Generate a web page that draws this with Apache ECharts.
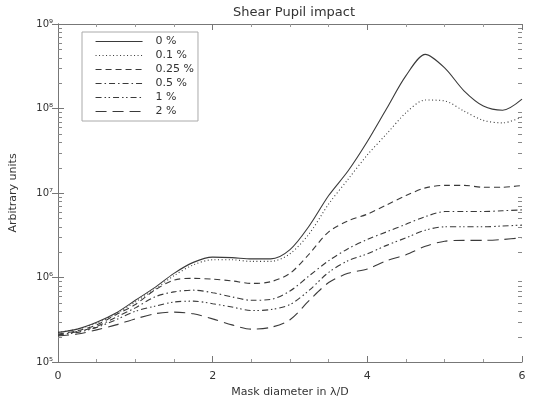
<!DOCTYPE html>
<html><head><meta charset="utf-8">
<script src="https://cdn.jsdelivr.net/npm/echarts@6/dist/echarts.min.js"></script>
<style>html,body{margin:0;padding:0;background:#fff}#c{width:537px;height:406px}</style>
</head><body><div id="c"></div>
<script>
const xs = [0,0.25,0.5,0.75,1,1.25,1.5,1.75,2,2.25,2.5,2.75,3,3.25,3.5,3.75,4,4.25,4.5,4.75,5,5.25,5.5,5.75,6];
const s0 = [2.24e5,2.45e5,2.95e5,3.80e5,5.37e5,7.59e5,1.12e6,1.51e6,1.74e6,1.72e6,1.66e6,1.66e6,2.14e6,4.1e6,9.33e6,1.82e7,4.07e7,1.0e8,2.45e8,4.37e8,3.02e8,1.62e8,1.07e8,9.55e7,1.29e8];
const s01 = [2.24e5,2.45e5,2.88e5,3.72e5,5.13e5,7.24e5,1.05e6,1.41e6,1.62e6,1.62e6,1.55e6,1.55e6,1.91e6,3.31e6,7.41e6,1.45e7,2.82e7,5.01e7,8.91e7,1.26e8,1.23e8,9.33e7,7.24e7,6.76e7,7.94e7];
const s025 = [2.14e5,2.34e5,2.75e5,3.63e5,4.79e5,7.08e5,9.33e5,9.77e5,9.55e5,9.12e5,8.51e5,8.91e5,1.12e6,1.91e6,3.47e6,4.68e6,5.62e6,7.24e6,9.33e6,1.15e7,1.23e7,1.23e7,1.17e7,1.17e7,1.23e7];
const s05 = [2.09e5,2.29e5,2.63e5,3.39e5,4.37e5,5.89e5,6.76e5,7.08e5,6.61e5,5.89e5,5.37e5,5.50e5,6.92e5,1.05e6,1.58e6,2.19e6,2.82e6,3.47e6,4.27e6,5.25e6,6.03e6,6.03e6,6.03e6,6.17e6,6.31e6];
const s1 = [2.09e5,2.24e5,2.57e5,3.16e5,3.98e5,4.57e5,5.13e5,5.25e5,4.90e5,4.47e5,4.07e5,4.17e5,4.79e5,7.08e5,1.15e6,1.58e6,1.91e6,2.40e6,2.95e6,3.63e6,3.98e6,3.98e6,3.98e6,4.07e6,4.17e6];
const s2 = [2.04e5,2.14e5,2.40e5,2.75e5,3.24e5,3.72e5,3.89e5,3.72e5,3.24e5,2.75e5,2.45e5,2.57e5,3.16e5,5.37e5,8.71e5,1.12e6,1.26e6,1.58e6,1.86e6,2.34e6,2.69e6,2.75e6,2.75e6,2.82e6,2.95e6];
const seriesNames = ['0 %','0.1 %','0.25 %','0.5 %','1 %','2 %'];
const xTicks = [0,2,4,6];
const yTickLabels = {5:'10⁵',6:'10⁶',7:'10⁷',8:'10⁸',9:'10⁹'};

const allData = [s0,s01,s025,s05,s1,s2];
const dashes = ['solid',[1,2.5],[6,4],[6,3,1.5,3],[6,3,1.5,2.5,1.5,3],[11,6]];
const col = '#3a3a3a';
const font = 'DejaVu Sans';
const chart = echarts.init(document.getElementById('c'), null, {renderer:'canvas'});
const axisLine = {show:true, lineStyle:{color:'#777', width:1}};
const xBase = {type:'value', min:0, max:6, interval:2, axisLine, splitLine:{show:false},
  axisTick:{show:true, inside:true, length:6, lineStyle:{color:'#777'}},
  minorTick:{show:true, splitNumber:4, length:3, lineStyle:{color:'#999'}}};
const yBase = {type:'log', logBase:10, min:1e5, max:1e9, axisLine, splitLine:{show:false},
  axisTick:{show:true, inside:true, length:6, lineStyle:{color:'#777'}}};
chart.setOption({
  animation:false,
  title:{text:'Shear Pupil impact', left:289, textAlign:'center', top:1,
    textStyle:{fontFamily:font, fontSize:13, fontWeight:'normal', color:'#333'}},
  grid:{left:57, right:15, top:24, bottom:44, containLabel:false},
  legend:{orient:'vertical', left:82, top:32, itemWidth:47, itemHeight:10, itemGap:3,
    padding:[4,4,4,13], borderColor:'#aaa', borderWidth:1, backgroundColor:'#fff',
    itemStyle:{opacity:0},
    lineStyle:{width:1.1},
    textStyle:{fontFamily:font, fontSize:11, color:'#333', padding:[0,0,0,8]},
    data:seriesNames},
  xAxis:[Object.assign({}, xBase, {position:'bottom', name:'Mask diameter in λ/D', nameLocation:'middle', nameGap:22,
      nameTextStyle:{fontFamily:font, fontSize:11, color:'#333'},
      axisLabel:{fontFamily:font, fontSize:11, color:'#333', margin:9,
        formatter:v=> xTicks.indexOf(v)>=0 ? String(v) : ''}}),
    Object.assign({}, xBase, {position:'top', axisLabel:{show:false}})],
  yAxis:[Object.assign({}, yBase, {position:'left', name:'Arbitrary units', nameLocation:'middle', nameGap:39,
      nameTextStyle:{fontFamily:font, fontSize:11, color:'#333'},
      axisLabel:{fontFamily:font, fontSize:10, color:'#333', margin:5,
        formatter:v=>yTickLabels[Math.round(Math.log10(v))]||''}}),
    Object.assign({}, yBase, {position:'right', axisLabel:{show:false}})],
  series: allData.map((d,i)=>({
    name:seriesNames[i], type:'line', xAxisIndex:0, yAxisIndex:0, smooth:0.3,
    showSymbol:false, symbol:'none',
    lineStyle:{color:col, width:1.1, type:dashes[i]},
    itemStyle:{color:col},
    data:xs.map((x,j)=>[x,d[j]])
  }))
});
// log-spaced minor ticks on both y axes (axis decoration)
const rect = chart.getModel().getComponent('grid', 0).coordinateSystem.getRect();
const g = [];
for (let e=5;e<9;e++){
  for (let m=2;m<=9;m++){
    const v = m*Math.pow(10,e);
    const y = Math.round(chart.convertToPixel({yAxisIndex:0}, v)) + 0.5;
    g.push({type:'line', shape:{x1:rect.x, y1:y, x2:rect.x+4, y2:y}, style:{stroke:'#888', lineWidth:1}, silent:true, z:100});
    g.push({type:'line', shape:{x1:rect.x+rect.width-4, y1:y, x2:rect.x+rect.width, y2:y}, style:{stroke:'#888', lineWidth:1}, silent:true, z:100});
  }
}
chart.setOption({graphic:{elements:g}});
</script></body></html>
